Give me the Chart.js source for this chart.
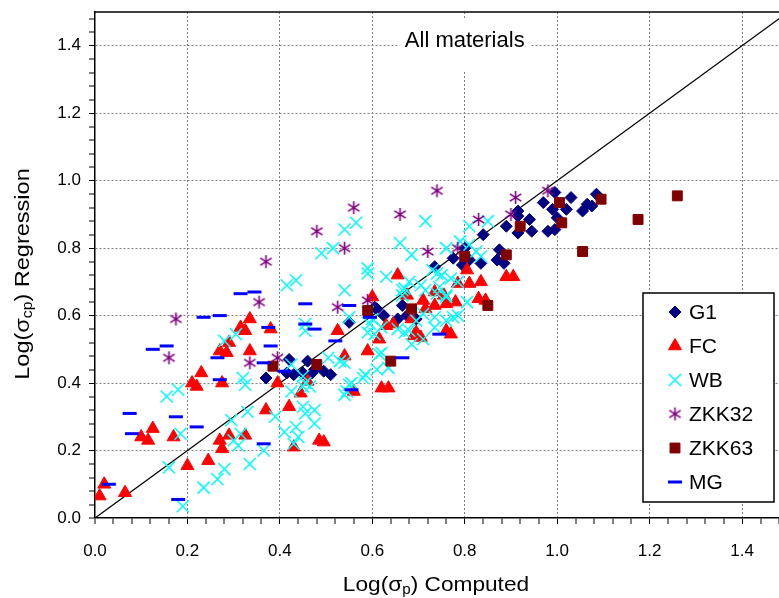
<!DOCTYPE html>
<html>
<head>
<meta charset="utf-8">
<title>All materials</title>
<script src="https://cdn.jsdelivr.net/npm/chart.js"></script>
<style>
  html, body { margin: 0; padding: 0; background: #fff; }
</style>
</head>
<body>
<canvas id="chart1" width="779" height="598"></canvas>

<script>
// series: [Log(sigma_p) computed, Log(sigma_cp) regression]
var g1 = [[0.37,0.415],[0.42,0.47],[0.46,0.465],[0.415,0.43],[0.43,0.425],[0.45,0.43],[0.475,0.44],[0.47,0.43],
  [0.495,0.435],[0.51,0.425],[0.55,0.58],[0.605,0.625],[0.61,0.62],[0.625,0.60],[0.655,0.59],[0.665,0.63],
  [0.675,0.60],[0.695,0.59],[0.735,0.745],[0.775,0.77],[0.80,0.80],[0.81,0.765],[0.795,0.75],[0.835,0.755],
  [0.84,0.84],[0.875,0.795],[0.87,0.765],[0.885,0.755],[0.89,0.865],[0.915,0.845],[0.915,0.91],[0.915,0.895],
  [0.94,0.885],[0.945,0.85],[0.97,0.935],[0.995,0.965],[1.03,0.95],[1.02,0.915],[0.99,0.915],[1.0,0.89],
  [1.065,0.93],[1.055,0.91],[0.98,0.85],[0.995,0.855],[1.075,0.925],[1.085,0.96]];

var fc = [[0.01,0.065],[0.02,0.10],[0.065,0.075],[0.10,0.24],[0.115,0.23],[0.125,0.265],[0.17,0.24],[0.20,0.155],
  [0.21,0.40],[0.22,0.39],[0.23,0.43],[0.275,0.40],[0.245,0.17],[0.27,0.23],[0.29,0.245],[0.275,0.205],
  [0.325,0.245],[0.37,0.32],[0.395,0.40],[0.42,0.33],[0.445,0.37],[0.43,0.21],[0.485,0.23],[0.495,0.225],
  [0.46,0.405],[0.27,0.495],[0.285,0.49],[0.29,0.52],[0.315,0.565],[0.325,0.555],[0.335,0.59],[0.38,0.56],
  [0.335,0.495],[0.525,0.555],[0.54,0.48],[0.56,0.375],[0.59,0.495],[0.60,0.655],[0.615,0.53],[0.63,0.57],
  [0.645,0.575],[0.62,0.385],[0.635,0.385],[0.655,0.72],[0.685,0.59],[0.69,0.54],[0.695,0.55],[0.705,0.535],
  [0.675,0.66],[0.71,0.645],[0.735,0.67],[0.735,0.63],[0.76,0.635],[0.78,0.64],[0.76,0.555],[0.77,0.545],
  [0.715,0.62],[0.755,0.66],[0.785,0.695],[0.81,0.695],[0.835,0.70],[0.83,0.65],[0.845,0.645],[0.805,0.735],
  [0.89,0.715],[0.905,0.715]];

var wb = [[0.155,0.36],[0.18,0.38],[0.185,0.25],[0.16,0.15],[0.19,0.035],[0.295,0.29],[0.315,0.25],[0.33,0.315],
  [0.30,0.23],[0.31,0.215],[0.335,0.16],[0.28,0.145],[0.265,0.115],[0.235,0.09],[0.39,0.30],[0.365,0.20],
  [0.41,0.255],[0.435,0.27],[0.44,0.24],[0.455,0.31],[0.475,0.32],[0.475,0.28],[0.43,0.22],[0.425,0.375],
  [0.45,0.39],[0.465,0.39],[0.54,0.365],[0.325,0.395],[0.28,0.525],[0.305,0.545],[0.32,0.415],[0.415,0.69],
  [0.435,0.705],[0.49,0.785],[0.515,0.80],[0.54,0.855],[0.54,0.675],[0.455,0.575],[0.455,0.555],[0.425,0.455],
  [0.45,0.42],[0.455,0.40],[0.505,0.475],[0.54,0.46],[0.59,0.725],[0.59,0.74],[0.63,0.715],[0.66,0.815],
  [0.685,0.78],[0.73,0.735],[0.74,0.725],[0.76,0.80],[0.665,0.675],[0.68,0.70],[0.595,0.575],[0.59,0.55],
  [0.62,0.49],[0.61,0.44],[0.58,0.415],[0.55,0.395],[0.55,0.595],[0.45,0.33],[0.655,0.56],[0.67,0.55],
  [0.68,0.555],[0.695,0.585],[0.735,0.565],[0.685,0.515],[0.71,0.53],[0.775,0.595],[0.76,0.66],[0.785,0.70],
  [0.705,0.69],[0.715,0.675],[0.79,0.82],[0.81,0.81],[0.825,0.79],[0.835,0.775],[0.75,0.72],[0.77,0.71],
  [0.805,0.64],[0.71,0.605],[0.735,0.595],[0.76,0.585],[0.785,0.60],[0.565,0.875],[0.715,0.88],[0.81,0.865],
  [0.85,0.88],[0.555,0.40],[0.545,0.375],[0.585,0.425],[0.615,0.485],[0.53,0.465],[0.67,0.68],[0.665,0.66],
  [0.745,0.685],[0.74,0.665],[0.76,0.655],[0.635,0.445],[0.59,0.61],[0.60,0.59],[0.62,0.565],[0.605,0.545]];

var zkk32 = [[0.175,0.59],[0.16,0.475],[0.37,0.76],[0.355,0.64],[0.335,0.46],[0.395,0.475],[0.48,0.85],
  [0.54,0.80],[0.525,0.625],[0.56,0.92],[0.66,0.90],[0.74,0.97],[0.72,0.79],[0.785,0.80],[0.83,0.885],
  [0.90,0.90],[0.91,0.95],[0.98,0.97],[0.59,0.645]];

var zkk63 = [[0.385,0.45],[0.48,0.455],[0.59,0.615],[0.685,0.62],[0.64,0.465],[0.80,0.775],[0.89,0.78],
  [0.85,0.63],[0.92,0.865],[1.005,0.935],[1.01,0.875],[1.055,0.79],[1.095,0.945],[1.175,0.885],[1.26,0.955]];

var mg = [[0.03,0.10],[0.075,0.31],[0.08,0.25],[0.175,0.30],[0.22,0.27],[0.18,0.055],[0.365,0.22],[0.125,0.50],
  [0.155,0.51],[0.315,0.665],[0.345,0.67],[0.235,0.595],[0.27,0.60],[0.265,0.475],[0.27,0.41],[0.375,0.565],
  [0.38,0.51],[0.365,0.46],[0.41,0.435],[0.455,0.635],[0.455,0.575],[0.475,0.56],[0.52,0.525],[0.55,0.63],
  [0.595,0.595],[0.665,0.475],[0.745,0.545],[0.555,0.38]];

var lineXY = [[0, 0], [1.5, 1.5]];   // 1:1 line

var seriesNames = ['G1', 'FC', 'WB', 'ZKK32', 'ZKK63', 'MG'];
var xTickLabels = ['0.0', '0.2', '0.4', '0.6', '0.8', '1.0', '1.2', '1.4'];
var yTickLabels = ['0.0', '0.2', '0.4', '0.6', '0.8', '1.0', '1.2', '1.4'];

var majorStep = 0.2, minorStep = 0.04;
var fontFam = "'Liberation Sans', Arial, sans-serif";

function pts(arr) { return arr.map(function (p) { return { x: p[0], y: p[1] }; }); }
function isMajor(v) { return Math.abs(v / majorStep - Math.round(v / majorStep)) < 1e-6; }
function minorTicks(max) {
  var t = [];
  for (var i = 0; i * minorStep <= max + 1e-9; i++) t.push({ value: +(i * minorStep).toFixed(2) });
  return t;
}
function tickLabel(labels) {
  return function (v) { return isMajor(v) ? labels[Math.round(v / majorStep)] : ''; };
}

// excel style asterisk marker
function makeStar(color) {
  var c = document.createElement('canvas');
  c.width = 15; c.height = 15;
  var g = c.getContext('2d');
  g.strokeStyle = color; g.lineWidth = 1.6;
  g.beginPath();
  g.moveTo(7.5, 1); g.lineTo(7.5, 14);
  g.moveTo(1.8, 3.8); g.lineTo(13.2, 11.2);
  g.moveTo(1.8, 11.2); g.lineTo(13.2, 3.8);
  g.stroke();
  return c;
}

var datasets = [
  { label: 'G1', data: pts(g1), pointStyle: 'rectRot', pointRadius: 6, backgroundColor: '#000080', borderColor: '#000080', borderWidth: 1, order: 6 },
  { label: 'FC', data: pts(fc), pointStyle: 'triangle', pointRadius: 7.5, backgroundColor: '#ff0000', borderColor: '#ff0000', borderWidth: 1, order: 5 },
  { label: 'WB', data: pts(wb), pointStyle: 'crossRot', pointRadius: 8.5, backgroundColor: '#00ffff', borderColor: '#00ffff', borderWidth: 1.5, order: 4 },
  { label: 'ZKK32', data: pts(zkk32), pointStyle: makeStar('#800080'), pointRadius: 7, backgroundColor: '#800080', borderColor: '#800080', borderWidth: 1.5, order: 3 },
  { label: 'ZKK63', data: pts(zkk63), pointStyle: 'rect', pointRadius: 7, backgroundColor: '#800000', borderColor: '#800000', borderWidth: 1, order: 2 },
  { label: 'MG', data: pts(mg), pointStyle: 'line', pointRadius: 7, backgroundColor: '#0000ff', borderColor: '#0000ff', borderWidth: 3, order: 1 },
  { label: '1:1', data: pts(lineXY), showLine: true, pointRadius: 0, borderColor: '#000', borderWidth: 1.3, fill: false, order: 10 }
];

// white box with the title, top border, axis titles with subscripts, legend box
var decoPlugin = {
  id: 'deco',
  beforeDatasetsDraw: function (chart) {
    var ctx = chart.ctx, a = chart.chartArea;
    var cx = chart.scales.x.getPixelForValue(0.8);
    ctx.save();
    ctx.fillStyle = '#fff';
    ctx.fillRect(cx - 65, a.top + 8, 130, 50);
    ctx.fillStyle = '#000';
    ctx.font = '22px ' + fontFam;
    ctx.textAlign = 'center';
    ctx.textBaseline = 'middle';
    ctx.fillText('All materials', cx, 41);
    ctx.restore();
  },
  afterDraw: function (chart) {
    var ctx = chart.ctx, a = chart.chartArea;
    ctx.save();
    ctx.strokeStyle = '#000';
    ctx.lineWidth = 1.5;
    ctx.beginPath();
    ctx.moveTo(a.left, a.top);
    ctx.lineTo(a.right, a.top);
    ctx.stroke();

    function subText(parts, size) {
      var w = 0;
      parts.forEach(function (p) {
        ctx.font = (p.sub ? Math.round(size * 0.65) : size) + 'px ' + fontFam;
        p.w = ctx.measureText(p.t).width;
        w += p.w;
      });
      var x = -w / 2;
      parts.forEach(function (p) {
        ctx.font = (p.sub ? Math.round(size * 0.65) : size) + 'px ' + fontFam;
        ctx.fillText(p.t, x, p.sub ? size * 0.25 : 0);
        x += p.w;
      });
    }
    ctx.fillStyle = '#000';
    ctx.textAlign = 'left';
    ctx.textBaseline = 'middle';

    ctx.save();
    ctx.translate(436, 585);
    ctx.scale(1.08, 1);
    subText([{ t: 'Log(σ' }, { t: 'p', sub: true }, { t: ') Computed' }], 21);
    ctx.restore();

    ctx.save();
    ctx.translate(23, 274);
    ctx.rotate(-Math.PI / 2);
    ctx.scale(1.12, 1);
    subText([{ t: 'Log(σ' }, { t: 'cp', sub: true }, { t: ') Regression' }], 21);
    ctx.restore();

    // legend box
    var bx = 643, by = 293, bw = 131, bh = 209;
    ctx.fillStyle = '#fff';
    ctx.fillRect(bx, by, bw, bh);
    ctx.strokeStyle = '#000';
    ctx.lineWidth = 1.5;
    ctx.strokeRect(bx, by, bw, bh);
    ctx.font = '21px ' + fontFam;
    seriesNames.forEach(function (name, i) {
      var ds = chart.data.datasets[i];
      var yy = 312 + i * 34;
      ctx.fillStyle = ds.backgroundColor;
      ctx.strokeStyle = ds.borderColor;
      ctx.lineWidth = ds.borderWidth;
      Chart.helpers.drawPoint(ctx, { pointStyle: ds.pointStyle, radius: ds.pointRadius, rotation: 0, borderWidth: ds.borderWidth }, 675, yy);
      ctx.fillStyle = '#000';
      ctx.fillText(name, 689, yy + 1);
    });
    ctx.restore();
  }
};

var ctx = document.getElementById('chart1').getContext('2d');
var chart1 = new Chart(ctx, {
  type: 'scatter',
  data: { datasets: datasets },
  options: {
    responsive: false,
    animation: false,
    events: [],
    layout: { autoPadding: false, padding: { top: 12, right: 0, left: 0, bottom: 0 } },
    plugins: { legend: { display: false }, tooltip: { enabled: false }, title: { display: false } },
    scales: {
      x: {
        type: 'linear', min: 0, max: 1.48,
        afterBuildTicks: function (s) { s.ticks = minorTicks(1.48); },
        afterFit: function (s) { s.height = 80; s.paddingRight = 0; s.paddingLeft = 0; },
        ticks: { autoSkip: false, maxRotation: 0, padding: 17, color: '#000', font: { size: 17, family: fontFam }, callback: tickLabel(xTickLabels) },
        grid: { color: '#808080', lineWidth: function (c) { return c.tick && isMajor(c.tick.value) && c.tick.value > 0 ? 1 : 0; }, tickColor: '#000', tickWidth: 1, tickLength: 6 },
        border: { color: '#000', width: 1.5, dash: [2, 2] }
      },
      y: {
        type: 'linear', min: 0, max: 1.5,
        afterBuildTicks: function (s) { s.ticks = minorTicks(1.5); },
        afterFit: function (s) { s.width = 95; s.paddingTop = 0; s.paddingBottom = 0; },
        ticks: { autoSkip: false, padding: 8, color: '#000', font: { size: 17, family: fontFam }, callback: tickLabel(yTickLabels) },
        grid: { color: '#808080', lineWidth: function (c) { return c.tick && isMajor(c.tick.value) && c.tick.value > 0 ? 1 : 0; }, tickColor: '#000', tickWidth: 1, tickLength: 6 },
        border: { color: '#000', width: 1.5, dash: [2, 2] }
      }
    }
  },
  plugins: [decoPlugin]
});
</script>
</body>
</html>
